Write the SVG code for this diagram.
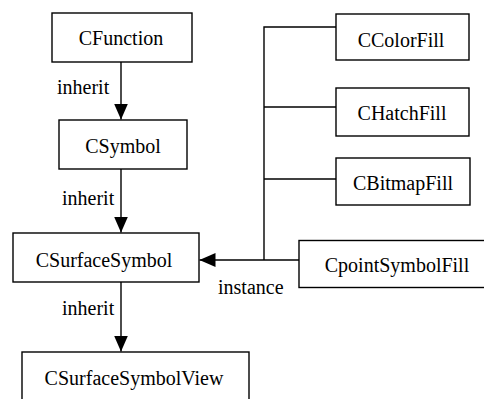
<svg xmlns="http://www.w3.org/2000/svg" width="484" height="399" viewBox="0 0 484 399">
<defs>
<marker id="ah" markerUnits="userSpaceOnUse" markerWidth="16" markerHeight="14" refX="16" refY="7" orient="auto">
<path d="M0,0 L16,7 L0,14 z" fill="#000"/>
</marker>
</defs>
<rect width="484" height="399" fill="#fff"/>
<g id="connectors" stroke="#000" stroke-width="1.4" fill="none">
<line x1="121" y1="62" x2="121" y2="119.5" marker-end="url(#ah)"/>
<line x1="121" y1="169" x2="121" y2="232.5" marker-end="url(#ah)"/>
<line x1="121" y1="282" x2="121" y2="351.5" marker-end="url(#ah)"/>
<line x1="299" y1="260" x2="199.5" y2="260" marker-end="url(#ah)"/>
<polyline points="336,27 264,27 264,260"/>
<line x1="264" y1="107" x2="336" y2="107"/>
<line x1="264" y1="179" x2="336" y2="179"/>
</g>
<g id="labels" font-family="Times New Roman, Liberation Serif, serif" font-size="20" fill="#000">
<text x="57" y="94">inherit</text>
<text x="62" y="205">inherit</text>
<text x="62" y="315">inherit</text>
<text x="218" y="294">instance</text>
</g>
<g id="CFunction"><rect x="52" y="13" width="140" height="49" fill="#fff" stroke="#000" stroke-width="1.4"/><text x="121" y="45" text-anchor="middle" font-family="Times New Roman, Liberation Serif, serif" font-size="20">CFunction</text></g>
<g id="CSymbol"><rect x="59" y="120" width="128" height="49" fill="#fff" stroke="#000" stroke-width="1.4"/><text x="123" y="153" text-anchor="middle" font-family="Times New Roman, Liberation Serif, serif" font-size="20">CSymbol</text></g>
<g id="CSurfaceSymbol"><rect x="13" y="233" width="186" height="49" fill="#fff" stroke="#000" stroke-width="1.4"/><text x="104" y="266.5" text-anchor="middle" font-family="Times New Roman, Liberation Serif, serif" font-size="20">CSurfaceSymbol</text></g>
<g id="CSurfaceSymbolView"><rect x="22" y="352" width="227" height="60" fill="#fff" stroke="#000" stroke-width="1.4"/><text x="134" y="385" text-anchor="middle" font-family="Times New Roman, Liberation Serif, serif" font-size="20">CSurfaceSymbolView</text></g>
<g id="CColorFill"><rect x="336" y="14" width="133" height="46" fill="#fff" stroke="#000" stroke-width="1.4"/><text x="401" y="46.5" text-anchor="middle" font-family="Times New Roman, Liberation Serif, serif" font-size="20">CColorFill</text></g>
<g id="CHatchFill"><rect x="336" y="88" width="133" height="48" fill="#fff" stroke="#000" stroke-width="1.4"/><text x="402" y="120" text-anchor="middle" font-family="Times New Roman, Liberation Serif, serif" font-size="20">CHatchFill</text></g>
<g id="CBitmapFill"><rect x="336" y="158" width="134" height="47" fill="#fff" stroke="#000" stroke-width="1.4"/><text x="403" y="190" text-anchor="middle" font-family="Times New Roman, Liberation Serif, serif" font-size="20">CBitmapFill</text></g>
<g id="CpointSymbolFill"><rect x="299" y="240.5" width="200" height="47" fill="#fff" stroke="#000" stroke-width="1.4"/><text x="397" y="271.5" text-anchor="middle" font-family="Times New Roman, Liberation Serif, serif" font-size="20">CpointSymbolFill</text></g>
</svg>
